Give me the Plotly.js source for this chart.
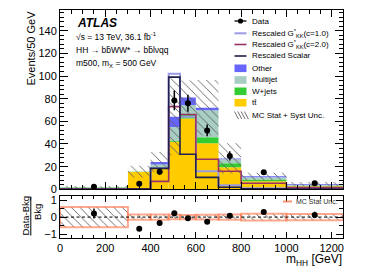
<!DOCTYPE html>
<html><head><meta charset="utf-8">
<script src="https://cdn.plot.ly/plotly-3.0.1.min.js"></script>
<style>html,body{margin:0;padding:0;background:#fff}#c{width:374px;height:272px}</style>
</head><body><div id="c"></div>
<script>
// ---- data ----
const binEdges  = [0, 300, 400, 480, 530, 600, 700, 800, 1000, 1250];
const ttbar     = [1.2, 15.3, 19.5, 42.0, 62.5, 40.6, 19.5, 7.2, 2.6];
const wjets     = [0.3, 0.2, 0.7, 1.0, 4.0, 5.3, 3.5, 1.4, 0.6];
const multijet  = [0.2, 0.0, 1.8, 12.0, 8.0, 24.0, 3.5, 2.0, 0.9];
const other     = [0.2, 0.1, 2.0, 9.0, 6.5, 2.0, 0.8, 0.9, 0.6];
const bkgUnc    = [1.0, 5.2, 9.0, 34.0, 15.0, 24.5, 13.3, 3.2, 1.8];
const mcStatRel = [0.6, 0.15, 0.15, 0.13, 0.12, 0.14, 0.15, 0.2, 0.18];
const dataVals  = [2.3, 5.0, 15.5, 78.5, 76.0, 52.0, 29.5, 15.0, 5.3];
const dataErr   = [0.55, 1.0, 2.6, 8.8, 7.5, 5.2, 4.0, 1.0, 0.9];
const gkkC1     = [0.2, 0.3, 18.8, 102.0, 64.0, 16.0, 3.5, 1.0, 0.3];
const gkkC2     = [0.2, 0.5, 7.0, 73.0, 66.0, 26.5, 16.0, 5.3, 1.5];
const scalar    = [0.1, 0.2, 18.5, 99.0, 31.0, 10.5, 1.8, 0.5, 0.2];
const xTickVals = [0, 200, 400, 600, 800, 1000, 1200];
const yTickVals = [0, 20, 40, 60, 80, 100, 120, 140];
const rTickVals = [-1, 0, 1];
const rTickText = ['\u22121', '0', '1'];

// ---- derived ----
const nb = binEdges.length - 1;
const centers = [], widths = [];
for (let i = 0; i < nb; i++) { centers.push((binEdges[i] + binEdges[i+1]) / 2); widths.push(binEdges[i+1] - binEdges[i]); }
const stackDefs = [
  {name: 'tt\u0304', vals: ttbar, color: '#ffcc00'},
  {name: 'W+jets', vals: wjets, color: '#33cc33'},
  {name: 'Multijet', vals: multijet, color: '#a8cdc3'},
  {name: 'Other', vals: other, color: '#6666ff'}
];
const cum = new Array(nb).fill(0);
const traces = [];
stackDefs.forEach(s => {
  traces.push({type: 'bar', x: centers, width: widths, base: cum.slice(), y: s.vals,
    marker: {color: s.color, line: {width: 0}}, xaxis: 'x', yaxis: 'y', showlegend: false, hoverinfo: 'skip'});
  for (let i = 0; i < nb; i++) cum[i] += s.vals[i];
});
const bkg = cum.slice();
traces.push({type: 'bar', x: centers, width: widths,
  base: bkg.map((b, i) => Math.max(0, b - bkgUnc[i])), y: bkg.map((b, i) => Math.min(b, bkgUnc[i]) + bkgUnc[i]),
  marker: {color: 'rgba(0,0,0,0)', line: {width: 0},
    pattern: {shape: '\\', fgcolor: '#606060', bgcolor: 'rgba(0,0,0,0)', size: 6, solidity: 0.15}},
  xaxis: 'x', yaxis: 'y', showlegend: false, hoverinfo: 'skip'});
function step(vals) { return vals.concat([vals[vals.length - 1]]); }
[[gkkC1, '#9a9ae6', 2], [gkkC2, '#993366', 1.6], [scalar, '#20204a', 1.6]].forEach(([v, c, w]) => {
  traces.push({type: 'scatter', mode: 'lines', x: binEdges, y: step(v), line: {shape: 'hv', color: c, width: w},
    xaxis: 'x', yaxis: 'y', showlegend: false, hoverinfo: 'skip'});
});
traces.push({type: 'scatter', mode: 'markers', x: centers, y: dataVals,
  error_y: {type: 'data', array: dataErr, visible: true, color: '#000', thickness: 1.5, width: 0},
  marker: {color: '#000', size: 6}, xaxis: 'x', yaxis: 'y', showlegend: false, hoverinfo: 'skip'});
// ratio panel
traces.push({type: 'bar', x: centers, width: widths, base: mcStatRel.map(v => -v), y: mcStatRel.map(v => 2 * v),
  marker: {color: 'rgba(0,0,0,0)', line: {width: 2, color: 'rgba(255,125,85,0.65)'},
    pattern: {shape: '\\', fgcolor: '#606060', bgcolor: 'rgba(0,0,0,0)', size: 6, solidity: 0.15}},
  xaxis: 'x2', yaxis: 'y2', showlegend: false, hoverinfo: 'skip'});
traces.push({type: 'scatter', mode: 'markers', x: centers, y: dataVals.map((d, i) => (d - bkg[i]) / bkg[i]),
  error_y: {type: 'data', array: dataErr.map((e, i) => e / bkg[i]), visible: true, color: '#000', thickness: 1.5, width: 0},
  marker: {color: '#000', size: 6}, xaxis: 'x2', yaxis: 'y2', showlegend: false, hoverinfo: 'skip'});

// ---- layout helpers (pixel -> paper) ----
const W = 374, H = 272, mL = 60, mR = 31, mT = 10, mB = 34;
const pw = W - mL - mR, ph = H - mT - mB;
const px = v => (v - mL) / pw, py = v => (H - mB - v) / ph;
const FONT = 'Liberation Sans, Arial, Helvetica, sans-serif';
const ann = [], shp = [];
function text(t, x, y, size, opts) {
  ann.push(Object.assign({text: t, xref: 'paper', yref: 'paper', x: px(x), y: py(y), xanchor: 'left', yanchor: 'middle',
    showarrow: false, font: {family: FONT, size: size, color: '#000'}}, opts || {}));
}
function hline(x0, x1, y, color, w, dash) {
  shp.push({type: 'line', xref: 'paper', yref: 'paper', x0: px(x0), x1: px(x1), y0: py(y), y1: py(y), line: {color: color, width: w, dash: dash || 'solid'}});
}
// top-left labels
text('<b><i>ATLAS</i></b>', 74.5, 22.5, 12);
text('\u221As = 13 TeV, 36.1 fb<sup>-1</sup>', 74, 36, 8.5);
text('HH \u2192 bb\u0304WW* \u2192 bb\u0304l\u03BDqq', 74, 50, 8.5);
text('m500, m<sub>X</sub> = 500 GeV', 74, 63.5, 8.5);
// legend
const legX0 = 234.5, legX1 = 246.5, legTX = 250;
const legY = [21, 33.3, 44.5, 56, 68.3, 80, 91.3, 102.7, 115.3];
const legText = ['Data', 'Rescaled G<sup>*</sup><sub>KK</sub>(c=1.0)', 'Rescaled G<sup>*</sup><sub>KK</sub>(c=2.0)', 'Rescaled Scalar',
  'Other', 'Multijet', 'W+jets', 'tt\u0304', 'MC Stat + Syst Unc.'];
legText.forEach((t, i) => text(t, legTX, legY[i], 8));
hline(legX0, legX1, legY[0], '#000', 1.3);
shp.push({type: 'circle', xref: 'paper', yref: 'paper', x0: px(240.5 - 2.6), x1: px(240.5 + 2.6), y0: py(legY[0] + 2.6), y1: py(legY[0] - 2.6), fillcolor: '#000', line: {width: 0}});
hline(legX0, legX1, legY[1], '#9a9ae6', 2);
hline(legX0, legX1, legY[2], '#993366', 1.6);
hline(legX0, legX1, legY[3], '#20204a', 1.6);
stackDefs.slice().reverse().forEach((s, i) => {
  const yc = legY[4 + i];
  shp.push({type: 'rect', xref: 'paper', yref: 'paper', x0: px(legX0), x1: px(legX1), y0: py(yc + 3.8), y1: py(yc - 3.8), fillcolor: s.color, line: {width: 0}});
});
for (let k = 0; k < 4; k++) {
  const x0 = legX0 + k * 3.3;
  shp.push({type: 'line', xref: 'paper', yref: 'paper', x0: px(x0), x1: px(x0 + 4), y0: py(legY[8] - 3.8), y1: py(legY[8] + 3.8), line: {color: '#606060', width: 0.9}});
}
// axis titles
ann.push({text: 'Events/50 GeV', xref: 'paper', yref: 'paper', x: px(30), y: py(9), xanchor: 'center', yanchor: 'top', textangle: -90,
  showarrow: false, font: {family: FONT, size: 11, color: '#000'}});
ann.push({text: 'm<sub>HH</sub> [GeV]', xref: 'paper', yref: 'paper', x: px(343.5), y: py(260), xanchor: 'right', yanchor: 'middle',
  showarrow: false, font: {family: FONT, size: 12, color: '#000'}});
ann.push({text: 'Data-Bkg', xref: 'paper', yref: 'paper', x: px(25), y: py(215.5), xanchor: 'center', yanchor: 'middle', textangle: -90,
  showarrow: false, font: {family: FONT, size: 9.5, color: '#000'}});
ann.push({text: 'Bkg', xref: 'paper', yref: 'paper', x: px(37), y: py(212), xanchor: 'center', yanchor: 'middle', textangle: -90,
  showarrow: false, font: {family: FONT, size: 9.5, color: '#000'}});
shp.push({type: 'line', xref: 'paper', yref: 'paper', x0: px(30.8), x1: px(30.8), y0: py(196.5), y1: py(235.5), line: {color: '#000', width: 1}});
// ratio legend + zero line
hline(283, 292, 201.5, 'rgba(255,125,85,0.8)', 2);
text('MC Stat Unc.', 294, 201.5, 7, {font: {family: FONT, size: 7, color: '#333'}});
shp.push({type: 'line', xref: 'x2 domain', yref: 'y2', x0: 0, x1: 1, y0: 0, y1: 0, line: {color: '#000', width: 1, dash: '3px,2.5px'}});

const axBase = {showline: true, linecolor: '#000', linewidth: 1, mirror: 'allticks', ticks: 'inside', tickcolor: '#000',
  tickwidth: 1, showgrid: false, zeroline: false, tickfont: {family: FONT, size: 11, color: '#000'}};
const layout = {
  width: W, height: H, margin: {l: mL, r: mR, t: mT, b: mB}, paper_bgcolor: '#fff', plot_bgcolor: '#fff',
  barmode: 'overlay', showlegend: false, font: {family: FONT},
  xaxis: Object.assign({}, axBase, {domain: [0, 1], anchor: 'y', range: [0, 1250], tickmode: 'array', tickvals: xTickVals,
    showticklabels: false, ticklen: 7, minor: {dtick: 50, tick0: 0, ticklen: 4, ticks: 'inside', tickcolor: '#000', showgrid: false}}),
  yaxis: Object.assign({}, axBase, {domain: [py(189.3), 1], anchor: 'x', range: [0, 158.3], tickmode: 'array', tickvals: yTickVals,
    ticklen: 8, minor: {dtick: 4, tick0: 0, ticklen: 4, ticks: 'inside', tickcolor: '#000', showgrid: false}}),
  xaxis2: Object.assign({}, axBase, {domain: [0, 1], anchor: 'y2', range: [0, 1250], tickmode: 'array', tickvals: xTickVals,
    ticklen: 6, minor: {dtick: 50, tick0: 0, ticklen: 3, ticks: 'inside', tickcolor: '#000', showgrid: false}}),
  yaxis2: Object.assign({}, axBase, {domain: [0, py(196)], anchor: 'x2', range: [-1.23, 1.24], tickmode: 'array',
    tickvals: rTickVals, ticktext: rTickText, ticklen: 7, minor: {dtick: 0.5, tick0: 0, ticklen: 4, ticks: 'inside', tickcolor: '#000', showgrid: false}}),
  annotations: ann, shapes: shp
};
Plotly.newPlot('c', traces, layout, {staticPlot: true, displayModeBar: false});
</script></body></html>
